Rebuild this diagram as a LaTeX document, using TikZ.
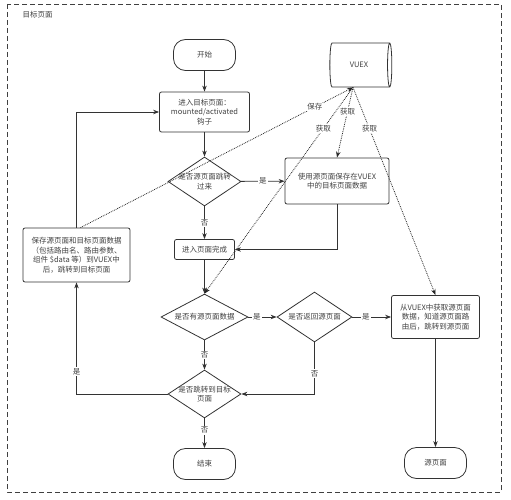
\documentclass[tikz,border=0pt]{standalone}
\usepackage{fontspec}
\setmainfont{Noto Sans CJK SC}
\usetikzlibrary{arrows.meta,shapes.geometric}
\tikzset{
  flow/.style={draw=black!80, line width=0.8pt, -{Stealth[length=6pt,width=4.5pt]}},
  fetch/.style={draw=black!85, line width=0.8pt, densely dotted, -{Stealth[length=6pt,width=4.5pt]}},
  proc/.style={draw=black!80, line width=0.8pt, rounded corners=2pt, align=center, text=black!75, inner sep=1pt},
  term/.style={draw=black!80, line width=0.8pt, rounded corners=12pt, minimum width=62pt, minimum height=31pt, text=black!75},
  decide/.style={diamond, draw=black!80, line width=0.8pt, align=center, text=black!75, inner sep=0pt},
  tag/.style={fill=white, text=black!75, inner sep=1pt},
}
\begin{document}
\begin{tikzpicture}[x=1pt,y=-1pt,font=\fontsize{7.5}{9.5}\selectfont]
	\useasboundingbox (0,0) rectangle (511,500);
	\draw[black!75, line width=0.9pt, dash pattern=on 5pt off 3pt] (7,4) rectangle (501,492);
	\node[anchor=west, text=black!75] (frame) at (19,15) {目标页面};
	
	% main column
	\node[term] (start) at (204.5,55) {开始};
	\node[proc, minimum width=90pt, minimum height=40pt] (enter) at (204.5,112) {进入目标页面：\\mounted/activated\\钩子};
	\node[decide, minimum width=73pt, minimum height=49pt, aspect=1.5, inner sep=-2pt] (fromsrc) at (204.5,181.5) {是否源页面跳转\\过来};
	\node[proc, minimum width=60pt, minimum height=20pt] (done) at (204.5,249.5) {进入页面完成};
	\node[decide, minimum width=87pt, minimum height=46pt, aspect=2] (hasdata) at (204.5,317) {是否有源页面数据};
	\node[decide, minimum width=73pt, minimum height=48pt, aspect=1.5, inner sep=-2pt] (gotarget) at (204.5,394) {是否跳转到目标\\页面};
	\node[term] (finish) at (204.5,464) {结束};
	
	% side boxes
	\node[proc, minimum width=104pt, minimum height=46pt] (usedata) at (337,181) {使用源页面保存在VUEX\\中的目标页面数据};
	\node[decide, minimum width=75pt, minimum height=50pt, aspect=1.5] (goback) at (314.5,317) {是否返回源页面};
	\node[proc, minimum width=88pt, minimum height=43pt] (fetchsrc) at (435.5,317) {从VUEX中获取源页面\\数据，知道源页面路\\由后，跳转到源页面};
	\node[term] (srcpage) at (435.5,463) {源页面};
	\node[proc, minimum width=107pt, minimum height=54pt] (save) at (76.5,255) {保存源页面和目标页面数据\\（包括路由名、路由参数、\\组件 \$data 等）到VUEX中\\后，跳转到目标页面};
	\node[cylinder, draw=black!80, line width=0.8pt, shape aspect=0.35, minimum width=44pt, minimum height=62pt, text=black!75] (vuex) at (359,65) {VUEX};
	\coordinate (vdock) at ([xshift=-6pt]vuex.south);
	
	% solid flow
	\draw[flow] (start) -- (enter);
	\draw[flow] (enter) -- (fromsrc);
	\draw[flow] (fromsrc) -- node[tag]{是} (usedata);
	\draw[flow] (fromsrc) -- node[tag]{否} (done);
	\draw[flow] (usedata.south) |- (done.east);
	\draw[flow] (done) -- (hasdata);
	\draw[flow] (hasdata) -- node[tag, pos=0.3]{是} (goback);
	\draw[flow] (goback) -- node[tag, pos=0.35]{是} (fetchsrc);
	\draw[flow] (goback.south) |- node[tag, pos=0.3]{否} (gotarget.east);
	\draw[flow] (hasdata) -- node[tag]{否} (gotarget);
	\draw[flow] (gotarget.west) -| node[tag, pos=0.6]{是} (save.south);
	\draw[flow] (save.north) |- (enter.west);
	\draw[flow] (gotarget) -- node[tag, pos=0.4]{否} (finish);
	\draw[flow] (fetchsrc) -- (srcpage);
	
	% dotted vuex access
	\draw[fetch] ([xshift=4pt]save.north) -- node[tag, pos=0.86]{保存} (vdock);
	\draw[fetch] (vdock) -- node[tag, pos=0.34]{获取} (usedata.north);
	\draw[fetch] (vdock) -- node[tag, pos=0.2]{获取} (hasdata.north);
	\draw[fetch] (vdock) -- node[tag, pos=0.2]{获取} (fetchsrc.north);
\end{tikzpicture}
\end{document}
